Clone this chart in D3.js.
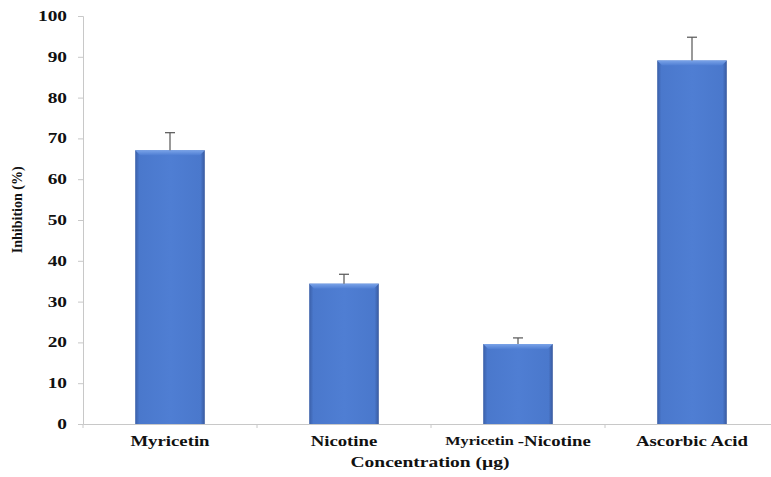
<!DOCTYPE html>
<html>
<head>
<meta charset="utf-8">
<script src="https://cdn.jsdelivr.net/npm/d3@7"></script>
<style>
  body { margin: 0; background: #fff; }
  svg text { font-family: "Liberation Serif", "Times New Roman", serif; font-weight: bold; fill: #111; }
</style>
</head>
<body>
<svg id="chart" width="771" height="477"></svg>
<script>
// data
const categories = ["Myricetin", "Nicotine", "Myricetin -Nicotine", "Ascorbic Acid"];
const values = [67.1, 34.4, 19.6, 89.1];
const errors = [4.3, 2.3, 1.5, 5.7];
const yTicks = [0, 10, 20, 30, 40, 50, 60, 70, 80, 90, 100];

const margin = {top: 16, left: 83, bottom: 53};
const svg = d3.select("#chart");
const H = 477;
const bandW = 174;

// the original picture is a bit wider than tall, so the text looks stretched
function stretch(sel, k) {
  sel.each(function() {
    const w = this.getComputedTextLength();
    d3.select(this).attr("textLength", w * k).attr("lengthAdjust", "spacingAndGlyphs");
  });
}

const x = d3.scaleBand()
  .domain(categories)
  .range([margin.left, margin.left + bandW * categories.length])
  .paddingInner(0.6).paddingOuter(0.3);
const y = d3.scaleLinear().domain([0, 100]).range([H - margin.bottom, margin.top]);

// gradients for the bevelled bars
const defs = svg.append("defs");
const gh = defs.append("linearGradient").attr("id", "barH").attr("x1", 0).attr("x2", 1).attr("y1", 0).attr("y2", 0);
gh.append("stop").attr("offset", "0").attr("stop-color", "#3a5fa8");
gh.append("stop").attr("offset", "0.06").attr("stop-color", "#4a78cc");
gh.append("stop").attr("offset", "0.5").attr("stop-color", "#4f7ed3");
gh.append("stop").attr("offset", "0.94").attr("stop-color", "#4a78cc");
gh.append("stop").attr("offset", "1").attr("stop-color", "#38599e");
const gt = defs.append("linearGradient").attr("id", "barTop").attr("x1", 0).attr("x2", 0).attr("y1", 0).attr("y2", 1);
gt.append("stop").attr("offset", "0").attr("stop-color", "#7aa3e8");
gt.append("stop").attr("offset", "1").attr("stop-color", "#4f7ed3");

// y axis
const yAxis = svg.append("g")
  .attr("transform", "translate(" + margin.left + ",0)")
  .call(d3.axisLeft(y).tickValues(yTicks).tickSize(5).tickPadding(11));
yAxis.select(".domain").attr("stroke", "#c8c8c8");
yAxis.selectAll(".tick line").attr("stroke", "#c8c8c8");
yAxis.selectAll(".tick text").style("font-size", "14px").style("font-family", "Liberation Serif").style("font-weight", "bold").attr("fill", "#111");
stretch(yAxis.selectAll(".tick text"), 1.38);

// x axis
const xAxis = svg.append("g")
  .attr("transform", "translate(0," + y(0) + ")")
  .call(d3.axisBottom(x).tickSize(0).tickFormat(""));
xAxis.select(".domain").attr("stroke", "#c8c8c8");
xAxis.selectAll(".tick").remove();
xAxis.selectAll(".bt")
  .data(d3.range(categories.length + 1))
  .enter().append("line")
  .attr("x1", d => margin.left + d * bandW).attr("x2", d => margin.left + d * bandW)
  .attr("y1", 0).attr("y2", 4)
  .attr("stroke", "#c8c8c8");

// bars
const bars = svg.append("g").selectAll("g").data(categories).enter().append("g");
bars.append("rect")
  .attr("x", d => x(d))
  .attr("y", (d, i) => y(values[i]))
  .attr("width", x.bandwidth())
  .attr("height", (d, i) => y(0) - y(values[i]))
  .attr("fill", "url(#barH)");
bars.append("path")
  .attr("d", (d, i) => {
    const x0 = x(d), x1 = x(d) + x.bandwidth(), t = y(values[i]);
    return "M" + x0 + "," + t + "L" + x1 + "," + t + "L" + (x1 - 5) + "," + (t + 5) + "L" + (x0 + 5) + "," + (t + 5) + "Z";
  })
  .attr("fill", "url(#barTop)");

// error bars
const eb = svg.append("g").selectAll("g").data(categories).enter().append("g")
  .attr("stroke", "#555").attr("stroke-width", 1.2);
eb.append("line")
  .attr("x1", d => x(d) + x.bandwidth() / 2).attr("x2", d => x(d) + x.bandwidth() / 2)
  .attr("y1", (d, i) => y(values[i])).attr("y2", (d, i) => y(values[i] + errors[i]));
eb.append("line")
  .attr("x1", d => x(d) + x.bandwidth() / 2 - 5).attr("x2", d => x(d) + x.bandwidth() / 2 + 5)
  .attr("y1", (d, i) => y(values[i] + errors[i])).attr("y2", (d, i) => y(values[i] + errors[i]));

// category labels
const labels = svg.append("g").selectAll("text").data(categories).enter().append("text")
  .attr("x", d => x(d) + x.bandwidth() / 2)
  .attr("y", y(0) + 22)
  .attr("text-anchor", "middle")
  .style("font-size", "15px");
labels.each(function(d) {
  const t = d3.select(this);
  if (d.indexOf(" -") > 0) {
    const parts = d.split(" -");
    t.append("tspan").style("font-size", "13px").attr("dy", "-1").text(parts[0] + "  ");
    t.append("tspan").attr("dy", "1").text("-" + parts[1]);
    stretch(t.selectAll("tspan"), 1.25);
  } else {
    t.text(d);
    stretch(t, 1.25);
  }
});

// axis titles
const xt = svg.append("text")
  .attr("x", margin.left + bandW * 2 - 1)
  .attr("y", y(0) + 43)
  .attr("text-anchor", "middle")
  .style("font-size", "15px")
  .text("Concentration (µg)");
stretch(xt, 1.3);
svg.append("text")
  .attr("transform", "translate(22," + y(52.5) + ") rotate(-90)")
  .attr("text-anchor", "middle")
  .style("font-size", "14px")
  .text("Inhibition (%)");
</script>
</body>
</html>
